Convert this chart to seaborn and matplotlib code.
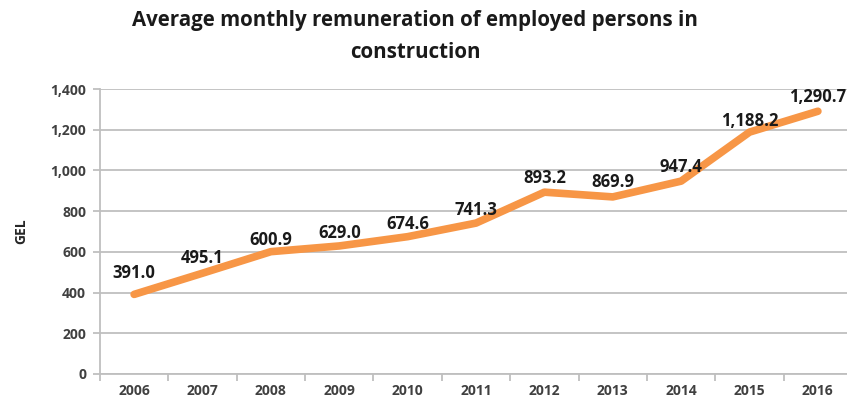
import pandas as pd
import numpy as np
import matplotlib.pyplot as plt
import seaborn as sns
from matplotlib.ticker import FuncFormatter, FixedLocator

years = ['2006', '2007', '2008', '2009', '2010', '2011', '2012', '2013', '2014', '2015', '2016']
gel = [391.0, 495.1, 600.9, 629.0, 674.6, 741.3, 893.2, 869.9, 947.4, 1188.2, 1290.7]
label_text = ['391.0', '495.1', '600.9', '629.0', '674.6', '741.3', '893.2', '869.9', '947.4', '1,188.2', '1,290.7']

sns.set_theme(style='white')
plt.rcParams['font.family'] = ['Open Sans', 'DejaVu Sans']

df = pd.DataFrame({'pos': np.arange(len(years)), 'GEL': gel})

fig = plt.figure(figsize=(8.47, 4.04), dpi=100)
ax = fig.add_axes([0.118, 0.0743, 0.888, 0.7054])

ax.yaxis.grid(True, color='#bfbfbf', linewidth=1.3)
ax.set_axisbelow(True)
sns.lineplot(data=df, x='pos', y='GEL', ax=ax, color='#f79646', linewidth=5.5,
             solid_capstyle='round', solid_joinstyle='round')

# per-point label lift in pixels (Excel "above" placement)
lift = [17, 10, 7, 8, 8, 8, 9, 10, 9, 6, 9]
for i, v in enumerate(gel):
    ax.annotate(label_text[i], (i, v), xytext=(0, lift[i] * 0.72 - 3), textcoords='offset points',
                ha='center', va='bottom', fontsize=12, fontweight='bold', color='#1a1a1a')

ax.set_xlim(-0.5, len(years) - 0.5)
ax.set_ylim(0, 1400)
ax.set_yticks(range(0, 1401, 200))
ax.yaxis.set_major_formatter(FuncFormatter(lambda v, p: f'{int(v):,}'))
ax.set_xticks(df['pos'])
ax.set_xticklabels(years)
ax.xaxis.set_minor_locator(FixedLocator(np.arange(-0.5, len(years), 1.0)))
ax.tick_params(axis='x', which='major', length=0, pad=7, labelsize=10, labelcolor='#404040')
ax.tick_params(axis='x', which='minor', length=5, width=1.3, color='#bfbfbf', bottom=True)
ax.tick_params(axis='y', length=5, width=1.3, color='#bfbfbf', left=True, pad=5,
               labelsize=10, labelcolor='#404040')
for t in ax.get_xticklabels() + ax.get_yticklabels():
    t.set_fontweight('bold')

for s in ['top', 'right']:
    ax.spines[s].set_visible(False)
for s in ['left', 'bottom']:
    ax.spines[s].set_color('#bfbfbf')
    ax.spines[s].set_linewidth(1.3)

ax.set_xlabel('')
ax.set_ylabel('GEL', fontsize=10, fontweight='bold', color='#262626', labelpad=16)

fig.text(0.49, 0.975, 'Average monthly remuneration of employed persons in\nconstruction',
         ha='center', va='top', fontsize=14.8, fontweight='bold', color='#1a1a1a',
         linespacing=1.7)

plt.savefig('out.png', dpi=100)
